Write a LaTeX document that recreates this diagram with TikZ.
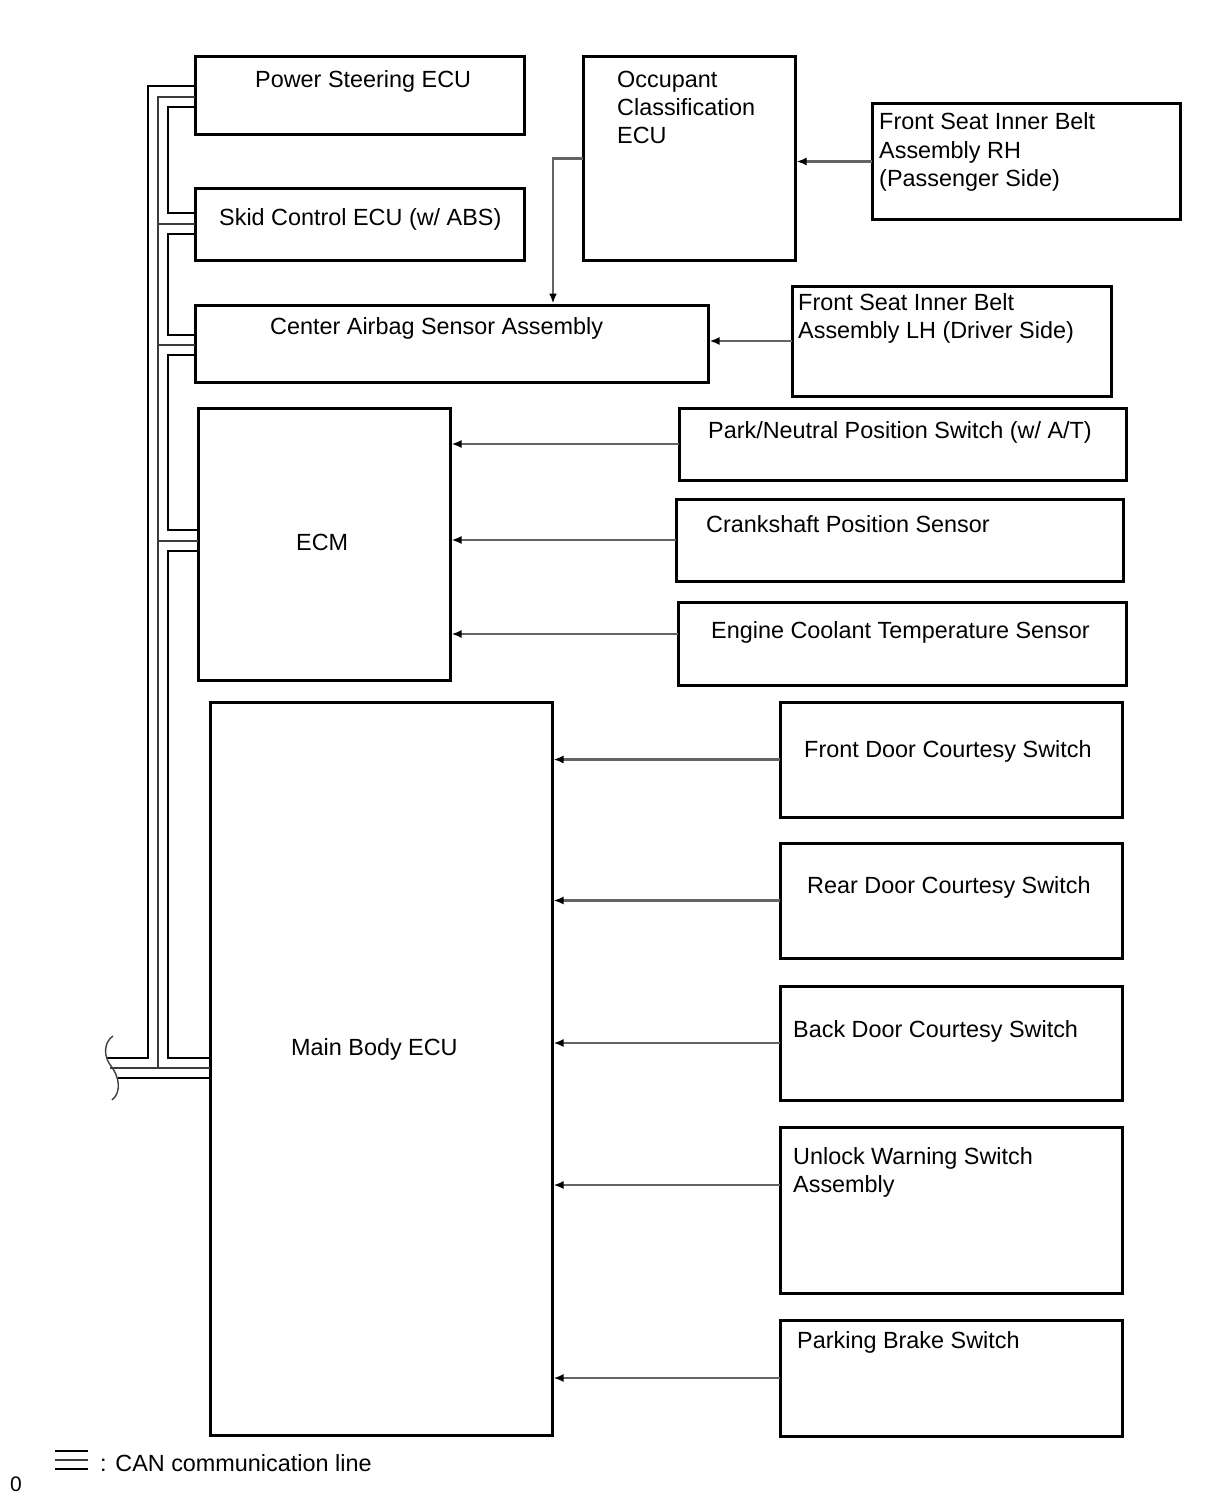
\documentclass[tikz,border=0pt]{standalone}
\usepackage{fontspec}
\setmainfont{Liberation Sans}
\usetikzlibrary{arrows.meta,calc}
\definecolor{sigcol}{RGB}{100,100,100}
\definecolor{midcol}{RGB}{60,60,60}
\begin{document}
\begin{tikzpicture}[x=1pt,y=-1pt,
  box/.style={draw=black,line width=3pt,inner sep=0pt,outer sep=0pt,rectangle},
  lbl/.style={anchor=base west,inner sep=0pt,font=\fontsize{23.4}{28}\selectfont,align=left},
  sig/.style={draw=sigcol,line width=2.2pt,shorten >=1.5pt,-{Latex[length=10pt,width=8pt,color=black]}},
  canout/.style={draw=black,line width=2.8pt,line join=miter},
  canmid/.style={draw=midcol,line width=2.3pt,line join=miter},
  brk/.style={draw=black!75,line width=1.4pt}]
\useasboundingbox (0,0) rectangle (1210,1498);
\fill[white] (0,0) rectangle (1210,1498);

% boxes
\node[box,minimum width=329pt,minimum height=78pt]  (ps)    at (359.5,96)   {};
\node[box,minimum width=212pt,minimum height=203pt] (occ)   at (689,158.5)  {};
\node[box,minimum width=308pt,minimum height=115pt] (fsrh)  at (1026,161.5) {};
\node[box,minimum width=329pt,minimum height=71pt]  (skid)  at (359.5,224.5){};
\node[box,minimum width=513pt,minimum height=77pt]  (cab)   at (451.5,343.5){};
\node[box,minimum width=319pt,minimum height=110pt] (fslh)  at (951.5,341)  {};
\node[box,minimum width=252pt,minimum height=272pt] (ecm)   at (324,544)    {};
\node[box,minimum width=447pt,minimum height=72pt]  (pn)    at (902.5,444)  {};
\node[box,minimum width=447pt,minimum height=82pt]  (crank) at (899.5,540)  {};
\node[box,minimum width=448pt,minimum height=83pt]  (ect)   at (902,643.5)  {};
\node[box,minimum width=342pt,minimum height=733pt] (mb)    at (381,1068.5) {};
\node[box,minimum width=342pt,minimum height=115pt] (fd)    at (951,759.5)  {};
\node[box,minimum width=342pt,minimum height=115pt] (rd)    at (951,900.5)  {};
\node[box,minimum width=342pt,minimum height=114pt] (bd)    at (951,1043)   {};
\node[box,minimum width=342pt,minimum height=166pt] (uw)    at (951,1210)   {};
\node[box,minimum width=342pt,minimum height=116pt] (pb)    at (951,1378)   {};

% labels (multi-line labels: base = last line)
\node[lbl] (tps)    at (255,88)   {Power Steering ECU};
\node[lbl] (tocc)   at (617,144)  {Occupant\\Classification\\ECU};
\node[lbl] (tfsrh)  at (879,186)  {Front Seat Inner Belt\\Assembly RH\\(Passenger Side)};
\node[lbl] (tskid)  at (219,225)  {Skid Control ECU (w/ ABS)};
\node[lbl] (tcab)   at (270,334)  {Center Airbag Sensor Assembly};
\node[lbl] (tfslh)  at (798,338)  {Front Seat Inner Belt\\Assembly LH (Driver Side)};
\node[lbl] (tecm)   at (296,550)  {ECM};
\node[lbl] (tpn)    at (708,438)  {Park/Neutral Position Switch (w/ A/T)};
\node[lbl] (tcrank) at (706,532)  {Crankshaft Position Sensor};
\node[lbl] (tect)   at (711,638)  {Engine Coolant Temperature Sensor};
\node[lbl] (tmb)    at (291,1055) {Main Body ECU};
\node[lbl] (tfd)    at (804,757)  {Front Door Courtesy Switch};
\node[lbl] (trd)    at (807,893)  {Rear Door Courtesy Switch};
\node[lbl] (tbd)    at (793,1037) {Back Door Courtesy Switch};
\node[lbl] (tuw)    at (793,1192) {Unlock Warning Switch\\Assembly};
\node[lbl] (tpb)    at (797,1348) {Parking Brake Switch};
\node[lbl] (tleg)   at (100,1471) {: CAN communication line};
\node[lbl,font=\fontsize{21}{24}\selectfont] (tzero) at (10,1491) {0};

% signal connectors
\coordinate (ectin) at ([yshift=9.5pt]ect.west);
\coordinate (uwin)  at ([yshift=25pt]uw.west);
\draw[sig] (fsrh.west)  -- (occ.east |- fsrh.west);
\draw[sig] (occ.west)   -| ($(cab.north west)+(358,0)$);
\draw[sig] (fslh.west)  -- (cab.east |- fslh.west);
\draw[sig] (pn.west)    -- (ecm.east |- pn.west);
\draw[sig] (crank.west) -- (ecm.east |- crank.west);
\draw[sig] (ectin)      -- (ecm.east |- ectin);
\draw[sig] (fd.west)    -- (mb.east |- fd.west);
\draw[sig] (rd.west)    -- (mb.east |- rd.west);
\draw[sig] (bd.west)    -- (mb.east |- bd.west);
\draw[sig] (uwin)       -- (mb.east |- uwin);
\draw[sig] (pb.west)    -- (mb.east |- pb.west);

% CAN bus
\draw[canout] (ps.west |- 0,86) -- (148,86) -- (148,1058) -- (107,1058);
\draw[canmid] (ps.west |- 0,97) -- (158,97) -- (158,1068);
\draw[canmid] (110,1068) -- (mb.west |- 0,1068);
\draw[canmid] (158,224) -- (skid.west |- 0,224);
\draw[canmid] (158,345) -- (cab.west |- 0,345);
\draw[canmid] (158,541) -- (ecm.west |- 0,541);
\draw[canout] (ps.west |- 0,107) -- (168,107) -- (168,213) -- (skid.west |- 0,213);
\draw[canout] (skid.west |- 0,234) -- (168,234) -- (168,335) -- (cab.west |- 0,335);
\draw[canout] (cab.west |- 0,355) -- (168,355) -- (168,530) -- (ecm.west |- 0,530);
\draw[canout] (ecm.west |- 0,551) -- (168,551) -- (168,1058) -- (mb.west |- 0,1058);
\draw[canout] (118,1078) -- (mb.west |- 0,1078);
\draw[brk] (113,1036) .. controls (104,1042) and (103,1056) .. (111,1066)
           .. controls (119,1076) and (122,1092) .. (112,1100);

% legend symbol
\draw[canout] (55,1451) -- (88,1451);
\draw[canmid] (55,1460) -- (88,1460);
\draw[canout] (55,1469) -- (88,1469);
\end{tikzpicture}
\end{document}
